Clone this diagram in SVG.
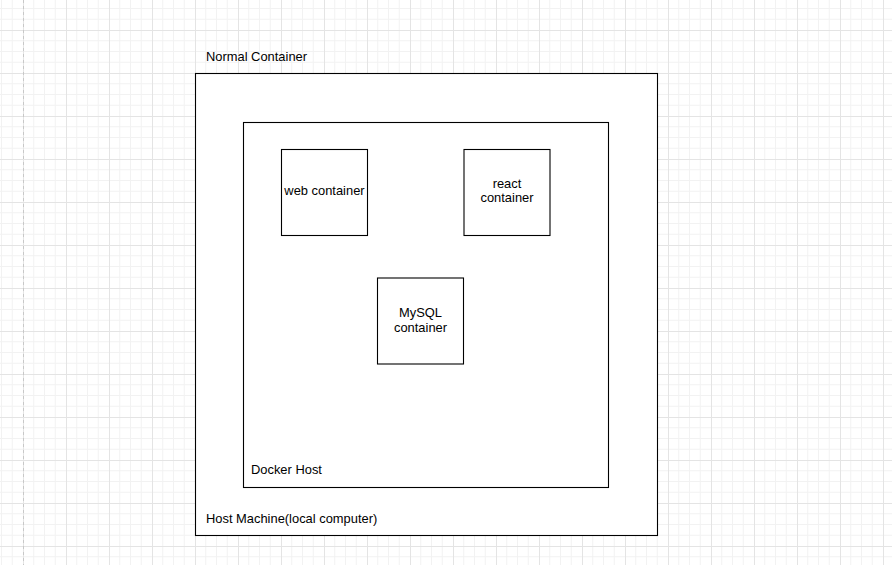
<svg xmlns="http://www.w3.org/2000/svg" width="892" height="565" viewBox="0 0 892 565">
  <defs>
    <pattern id="grid" patternUnits="userSpaceOnUse" x="23" y="30" width="43" height="43">
      <path d="M10.75 0V43M21.5 0V43M32.25 0V43M0 10.75H43M0 21.5H43M0 32.25H43" stroke="#f2f2f2" stroke-width="1" fill="none"/>
      <path d="M0.5 0V43M0 0.5H43" stroke="#e4e4e4" stroke-width="1" fill="none"/>
    </pattern>
    <style>
      .box { fill: #ffffff; stroke: #000000; stroke-width: 1.1; }
      .lbl { font-family: "Liberation Sans", Arial, sans-serif; font-size: 12.9px; fill: #000000; }
      .mid { text-anchor: middle; }
    </style>
  </defs>
  <rect x="0" y="0" width="892" height="565" fill="#ffffff"/>
  <rect x="0" y="0" width="892" height="565" fill="url(#grid)"/>
  <line x1="23.5" y1="0" x2="23.5" y2="565" stroke="#c8c8c8" stroke-width="1" stroke-dasharray="3,3"/>

  <g id="host-machine">
    <rect class="box" x="195.5" y="73.5" width="462" height="462"/>
    <text class="lbl" x="206" y="523">Host Machine(local computer)</text>
  </g>
  <text id="normal-container-label" class="lbl" x="206" y="61">Normal Container</text>

  <g id="docker-host">
    <rect class="box" x="243.5" y="122.5" width="365" height="365"/>
    <text class="lbl" x="251" y="474">Docker Host</text>
  </g>

  <g id="web-container">
    <rect class="box" x="281.5" y="149.5" width="86" height="86"/>
    <text class="lbl mid" x="324.5" y="195">web container</text>
  </g>

  <g id="react-container">
    <rect class="box" x="464" y="149.5" width="86" height="86"/>
    <text class="lbl mid" x="507" y="188">react</text>
    <text class="lbl mid" x="507" y="202">container</text>
  </g>

  <g id="mysql-container">
    <rect class="box" x="377.5" y="278" width="86" height="86"/>
    <text class="lbl mid" x="420.5" y="317">MySQL</text>
    <text class="lbl mid" x="420.5" y="332">container</text>
  </g>

  <g id="connectors"></g>
</svg>
